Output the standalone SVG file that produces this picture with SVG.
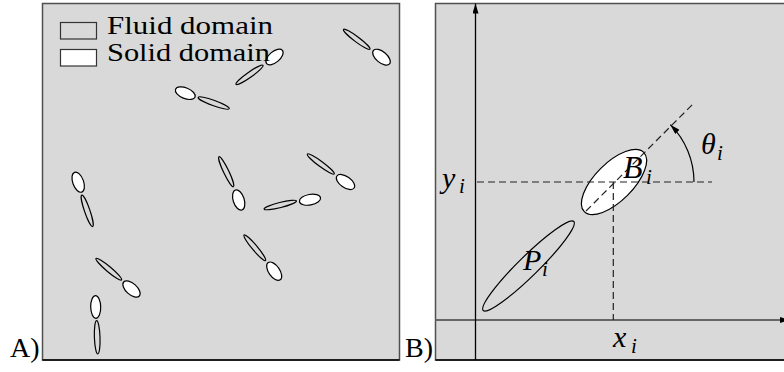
<svg xmlns="http://www.w3.org/2000/svg" width="784" height="372" viewBox="0 0 784 372">
<defs>
<marker id="ah" viewBox="0 0 10 6" refX="10" refY="3" markerWidth="10" markerHeight="6" markerUnits="userSpaceOnUse" orient="auto"><path d="M0,0 L10,3 L0,6 z" fill="#000"/></marker>
<style>
.panel{fill:#d9d9d9;stroke:#505050;stroke-width:1.5}
.edge{stroke:#000;stroke-width:1.5;fill:none}
.thin{fill:none;stroke:#000;stroke-width:1.2}
.solid{fill:#fff;stroke:#000;stroke-width:1.2}
.dash{stroke:#222;stroke-width:1.2;stroke-dasharray:7 4;fill:none}
</style>
</defs>
<rect width="784" height="372" fill="#fff"/>

<g id="panel-a">
<rect class="panel" x="42.5" y="3.5" width="357" height="356.5"/>
<line class="edge" x1="42.5" y1="360" x2="399.5" y2="360"/>
<text x="10" y="357" font-size="28" font-family="Liberation Serif, DejaVu Serif, serif">A)</text>
</g>

<g id="particles">
<g id="pair1"><ellipse class="thin" rx="16.5" ry="2.6" transform="translate(249.5 74.8) rotate(-35)"/><ellipse class="solid" rx="10.3" ry="5.4" transform="translate(274.5 57) rotate(-40)"/></g>
<g id="pair2"><ellipse class="thin" rx="16.5" ry="2.6" transform="translate(213.7 103) rotate(20)"/><ellipse class="solid" rx="10.5" ry="5.3" transform="translate(185.3 93.2) rotate(22)"/></g>
<g id="pair3"><ellipse class="thin" rx="16.5" ry="2.6" transform="translate(356.7 39.3) rotate(37)"/><ellipse class="solid" rx="10.5" ry="5.5" transform="translate(381.5 57.2) rotate(40)"/></g>
<g id="pair4"><ellipse class="solid" rx="10.5" ry="5.4" transform="translate(78.2 182.2) rotate(70)"/><ellipse class="thin" rx="16.6" ry="2.7" transform="translate(87.2 210.8) rotate(71)"/></g>
<g id="pair5"><ellipse class="thin" rx="16.6" ry="2.6" transform="translate(226.2 171.7) rotate(64.5)"/><ellipse class="solid" rx="10.5" ry="5.5" transform="translate(238.7 200) rotate(72)"/></g>
<g id="pair6"><ellipse class="thin" rx="16.7" ry="2.6" transform="translate(280.3 205) rotate(-14)"/><ellipse class="solid" rx="10.7" ry="5.3" transform="translate(310 199.7) rotate(-10)"/></g>
<g id="pair7"><ellipse class="thin" rx="16.7" ry="2.6" transform="translate(320.8 164) rotate(36.5)"/><ellipse class="solid" rx="10.5" ry="5.5" transform="translate(345.5 182) rotate(35)"/></g>
<g id="pair8"><ellipse class="thin" rx="16.7" ry="2.6" transform="translate(254.8 247.8) rotate(50)"/><ellipse class="solid" rx="10.5" ry="5.5" transform="translate(274.2 271.2) rotate(55)"/></g>
<g id="pair9"><ellipse class="thin" rx="16.7" ry="2.6" transform="translate(108.8 269.2) rotate(40)"/><ellipse class="solid" rx="10.5" ry="5.5" transform="translate(131.5 289) rotate(42)"/></g>
<g id="pair10"><ellipse class="solid" rx="11.3" ry="5" transform="translate(95.7 307) rotate(89)"/><ellipse class="thin" rx="16.7" ry="2.8" transform="translate(97.2 337.3) rotate(88)"/></g>
</g>

<g id="legend">
<rect x="60.5" y="22.5" width="36" height="16.5" fill="#d9d9d9" stroke="#333" stroke-width="1.2"/>
<rect x="60.5" y="49.5" width="36" height="16.5" fill="#fff" stroke="#333" stroke-width="1.2"/>
<text x="107" y="34" font-size="26" font-family="Liberation Serif, DejaVu Serif, serif" textLength="166" lengthAdjust="spacingAndGlyphs">Fluid domain</text>
<text x="107" y="61" font-size="26" font-family="Liberation Serif, DejaVu Serif, serif" textLength="163" lengthAdjust="spacingAndGlyphs">Solid domain</text>
</g>

<g id="panel-b">
<rect class="panel" x="435.5" y="3.5" width="360" height="356.5"/>
<line class="edge" x1="435.5" y1="360" x2="784" y2="360"/>
<text x="405" y="357" font-size="28" font-family="Liberation Serif, DejaVu Serif, serif">B)</text>
</g>

<g id="body-P"><ellipse class="thin" rx="63.5" ry="10" transform="translate(528.5 266) rotate(-44.5)"/></g>
<g id="body-B"><ellipse class="solid" rx="42" ry="19" transform="translate(614 182) rotate(-45)"/></g>

<g id="connectors">
<line x1="435.5" y1="320" x2="790" y2="320" stroke="#666" stroke-width="2" marker-end="url(#ah)"/>
<line x1="475.5" y1="360" x2="475.5" y2="3.5" stroke="#000" stroke-width="1.3" marker-end="url(#ah)"/>
<line class="dash" x1="477" y1="182" x2="712" y2="182"/>
<line class="dash" x1="613.3" y1="182" x2="613.3" y2="320"/>
<line class="dash" x1="586" y1="211" x2="694" y2="103"/>
<path d="M694 182 A81 81 0 0 0 670.3 124.7" fill="none" stroke="#000" stroke-width="1.2" marker-end="url(#ah)"/>
</g>

<g id="labels" font-family="Liberation Serif, DejaVu Serif, serif" font-style="italic">
<text x="623" y="178" font-size="32">B</text><text x="646" y="184" font-size="21">i</text>
<text x="523" y="270" font-size="30">P</text><text x="542" y="276" font-size="21">i</text>
<text x="701" y="154" font-size="30">θ</text><text x="717" y="160" font-size="21">i</text>
<text x="442" y="188" font-size="30">y</text><text x="459" y="193" font-size="21">i</text>
<text x="613" y="347" font-size="30">x</text><text x="631" y="353" font-size="21">i</text>
</g>
</svg>
